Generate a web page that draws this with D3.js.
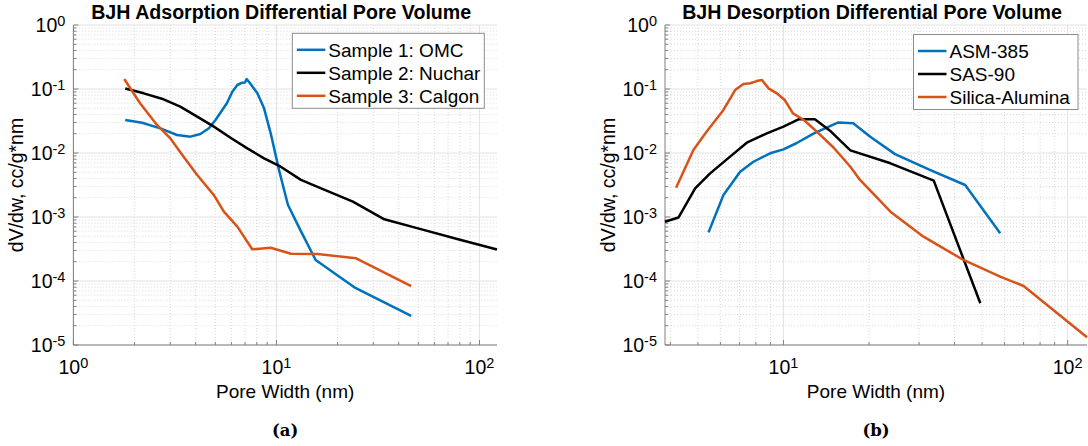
<!DOCTYPE html>
<html>
<head>
<meta charset="utf-8">
<script src="https://cdn.jsdelivr.net/npm/d3@7"></script>
<style>
html,body{margin:0;padding:0;background:#fff;}
svg{display:block;}
text{font-family:"Liberation Sans",Arial,Helvetica,sans-serif;fill:#000;}
</style>
</head>
<body>
<svg id="chart" width="1088" height="446"></svg>
<script>
// ---------- data ----------
const titles = ["BJH Adsorption Differential Pore Volume", "BJH Desorption Differential Pore Volume"];
const captions = ["(a)", "(b)"];
const xLabel = "Pore Width (nm)";
const yLabel = "dV/dw, cc/g*nm";

const namesA = ["Sample 1: OMC", "Sample 2: Nuchar", "Sample 3: Calgon"];
const namesB = ["ASM-385", "SAS-90", "Silica-Alumina"];
const colors = ["#0072BD", "#000000", "#D95319"];

const xDomainA = [1, 122];
const xDomainB = [3.83, 117];
const yDomain = [1e-5, 1];

const xTicksA = [1, 10, 100];
const xTickExpA = ["0", "1", "2"];
const xTicksB = [10, 100];
const xTickExpB = ["1", "2"];
const yTicks = [1e-5, 1e-4, 1e-3, 1e-2, 1e-1, 1];
const yTickExp = ["-5", "-4", "-3", "-2", "-1", "0"];

// Panel (a)
const omcX = [1.80, 2.18, 2.68, 3.24, 3.77, 4.22, 4.65, 5.01, 5.41, 5.72, 6.06, 6.42, 6.79, 7.0, 7.13, 7.32, 8.06, 8.69, 9.37, 10.3, 11.4, 13.1, 15.6, 24.2, 46.1];
const omcY = [0.0328, 0.0297, 0.0243, 0.0191, 0.018, 0.0198, 0.0243, 0.0328, 0.047, 0.061, 0.0907, 0.1155, 0.1256, 0.126, 0.143, 0.130, 0.0855, 0.0499, 0.0203, 0.0054, 0.00154, 0.00063, 0.000213, 7.98e-5, 2.84e-5];
const nucharX = [1.80, 2.22, 2.78, 3.36, 4.07, 4.92, 5.94, 7.19, 8.69, 10.5, 13.2, 16.6, 23.8, 34.0, 49.8, 78.5, 122];
const nucharY = [0.102, 0.0856, 0.069, 0.053, 0.037, 0.0258, 0.0173, 0.0118, 0.00826, 0.0061, 0.0038, 0.0028, 0.00174, 0.00092, 0.000665, 0.000448, 0.00031];
const calgonX = [1.78, 2.13, 2.58, 3.0, 3.49, 4.07, 4.92, 5.51, 6.42, 7.6, 9.37, 11.8, 15.95, 24.7, 46.1];
const calgonY = [0.143, 0.0598, 0.0274, 0.017, 0.00877, 0.00453, 0.0022, 0.00121, 0.000706, 0.000313, 0.000331, 0.000266, 0.000264, 0.000226, 8.35e-5];

// Panel (b)
const asmX = [5.45, 6.15, 7.04, 7.84, 8.98, 10.0, 11.1, 12.8, 15.6, 17.6, 20.2, 24.7, 32.9, 43.6, 57.9];
const asmY = [0.000575, 0.0022, 0.0051, 0.0073, 0.0099, 0.0114, 0.0142, 0.0203, 0.0300, 0.0291, 0.018, 0.0096, 0.0054, 0.00316, 0.000556];
const sasX = [3.83, 4.27, 4.89, 5.52, 6.49, 7.43, 8.74, 10.0, 11.3, 12.9, 14.7, 17.2, 23.8, 33.8, 49.3];
const sasY = [0.000845, 0.00098, 0.0028, 0.0048, 0.00877, 0.0145, 0.0203, 0.0258, 0.0336, 0.0337, 0.0216, 0.011, 0.0069, 0.0037, 4.48e-5];
const silicaX = [4.19, 4.82, 5.37, 6.15, 6.76, 7.23, 7.64, 8.06, 8.4, 8.86, 9.48, 10.1, 10.8, 11.8, 13.1, 15.0, 17.2, 18.6, 23.8, 31.1, 43.0, 57.9, 70.0, 117];
const silicaY = [0.00287, 0.0111, 0.0216, 0.047, 0.0964, 0.12, 0.123, 0.133, 0.138, 0.1025, 0.0856, 0.0673, 0.0417, 0.0328, 0.0216, 0.0122, 0.0061, 0.0038, 0.00121, 0.000493, 0.000213, 0.000117, 8.35e-5, 1.32e-5];

// ---------- drawing ----------
const svg = d3.select("#chart");

function zip(xs, ys) { return xs.map((x, i) => ({x: x, y: ys[i]})); }

function minorValues(domain) {
  const out = [];
  const d0 = Math.floor(Math.log10(domain[0])), d1 = Math.ceil(Math.log10(domain[1]));
  for (let d = d0; d <= d1; d++) {
    for (let k = 1; k <= 9; k++) {
      const v = k * Math.pow(10, d);
      if (v >= domain[0] * 0.9999 && v <= domain[1] * 1.0001) out.push({v: v, major: k === 1});
    }
  }
  return out;
}

function drawPanel(p) {
  const g = svg.append("g");
  const x = d3.scaleLog().domain(p.xDomain).range([p.left, p.right]);
  const y = d3.scaleLog().domain(yDomain).range([p.bottom, p.top]);

  const xm = minorValues(p.xDomain);
  const ym = minorValues(yDomain);

  // minor grid
  const grid = g.append("g");
  grid.selectAll("line.mx").data(xm.filter(d => !d.major)).join("line")
    .attr("x1", d => x(d.v)).attr("x2", d => x(d.v)).attr("y1", p.top).attr("y2", p.bottom)
    .attr("stroke", "#cfcfcf").attr("stroke-width", 0.8).attr("stroke-dasharray", "1,2");
  grid.selectAll("line.my").data(ym.filter(d => !d.major)).join("line")
    .attr("y1", d => y(d.v)).attr("y2", d => y(d.v)).attr("x1", p.left).attr("x2", p.right)
    .attr("stroke", "#cfcfcf").attr("stroke-width", 0.8).attr("stroke-dasharray", "1,2");
  // major grid
  grid.selectAll("line.Mx").data(xm.filter(d => d.major)).join("line")
    .attr("x1", d => x(d.v)).attr("x2", d => x(d.v)).attr("y1", p.top).attr("y2", p.bottom)
    .attr("stroke", "#e2e2e2").attr("stroke-width", 1);
  grid.selectAll("line.My").data(ym.filter(d => d.major)).join("line")
    .attr("y1", d => y(d.v)).attr("y2", d => y(d.v)).attr("x1", p.left).attr("x2", p.right)
    .attr("stroke", "#e2e2e2").attr("stroke-width", 1);

  // axes lines + ticks (inward)
  const ax = g.append("g").attr("stroke", "#808080").attr("stroke-width", 1);
  ax.append("line").attr("x1", p.left).attr("x2", p.right).attr("y1", p.bottom).attr("y2", p.bottom);
  ax.append("line").attr("x1", p.left).attr("x2", p.left).attr("y1", p.top).attr("y2", p.bottom);
  ax.selectAll("line.tx").data(xm).join("line")
    .attr("x1", d => x(d.v)).attr("x2", d => x(d.v)).attr("y1", p.bottom).attr("y2", d => p.bottom - (d.major ? 5 : 3));
  ax.selectAll("line.ty").data(ym).join("line")
    .attr("y1", d => y(d.v)).attr("y2", d => y(d.v)).attr("x1", p.left).attr("x2", d => p.left + (d.major ? 5 : 3));

  // series
  const line = d3.line().x(d => x(d.x)).y(d => y(d.y));
  p.series.forEach((s, i) => {
    g.append("path").datum(s.data).attr("d", line)
      .attr("fill", "none").attr("stroke", s.color).attr("stroke-width", 2.5)
      .attr("stroke-linejoin", "round").attr("stroke-linecap", "butt");
  });

  // y tick labels
  yTicks.forEach((v, i) => {
    const t = g.append("text").attr("x", p.left - 8).attr("y", y(v) + 7)
      .attr("text-anchor", "end").style("font-size", "19.5px");
    t.append("tspan").text("10");
    t.append("tspan").attr("dy", -6.5).style("font-size", "14.5px").text(yTickExp[i]);
  });
  // x tick labels
  p.xTicks.forEach((v, i) => {
    const t = g.append("text").attr("x", x(v)).attr("y", p.bottom + 29)
      .attr("text-anchor", "middle").style("font-size", "19.5px");
    t.append("tspan").text("10");
    t.append("tspan").attr("dy", -6.5).style("font-size", "14.5px").text(p.xTickExp[i]);
  });

  // title
  g.append("text").attr("x", (p.left + p.right) / 2 - 4).attr("y", 19)
    .attr("text-anchor", "middle").style("font-size", "19.6px").style("font-weight", "bold").text(p.title);
  // x label
  g.append("text").attr("x", (p.left + p.right) / 2).attr("y", 398)
    .attr("text-anchor", "middle").style("font-size", "19px").text(xLabel);
  // y label
  g.append("text").attr("transform", `translate(${p.left - 50},${(p.top + p.bottom) / 2}) rotate(-90)`)
    .attr("text-anchor", "middle").style("font-size", "19.5px").text(yLabel);
  // caption
  g.append("text").attr("x", (p.left + p.right) / 2).attr("y", 436)
    .attr("text-anchor", "middle").style("font-family", "'DejaVu Serif','Liberation Serif',serif")
    .style("font-weight", "bold").style("font-size", "16.5px").text(p.caption);

  // legend
  const L = p.legend;
  const lg = g.append("g");
  lg.append("rect").attr("x", L.x).attr("y", L.y).attr("width", L.w).attr("height", L.h)
    .attr("fill", "#fff").attr("stroke", "#8c8c8c").attr("stroke-width", 1);
  p.series.forEach((s, i) => {
    const cy = L.y + 16.5 + i * 23;
    lg.append("line").attr("x1", L.x + 4.5).attr("x2", L.x + 33).attr("y1", cy).attr("y2", cy)
      .attr("stroke", s.color).attr("stroke-width", 2.5);
    lg.append("text").attr("x", L.x + 36).attr("y", cy + 7).style("font-size", "19px").text(s.name);
  });
}

drawPanel({
  left: 73.4, right: 497, top: 25, bottom: 345,
  xDomain: xDomainA, xTicks: xTicksA, xTickExp: xTickExpA,
  title: titles[0], caption: captions[0],
  legend: {x: 292.3, y: 33.3, w: 192, h: 75},
  series: [
    {name: namesA[0], color: colors[0], data: zip(omcX, omcY)},
    {name: namesA[1], color: colors[1], data: zip(nucharX, nucharY)},
    {name: namesA[2], color: colors[2], data: zip(calgonX, calgonY)}
  ]
});
drawPanel({
  left: 665, right: 1087, top: 25, bottom: 345,
  xDomain: xDomainB, xTicks: xTicksB, xTickExp: xTickExpB,
  title: titles[1], caption: captions[1],
  legend: {x: 913.5, y: 34.5, w: 164.5, h: 75},
  series: [
    {name: namesB[0], color: colors[0], data: zip(asmX, asmY)},
    {name: namesB[1], color: colors[1], data: zip(sasX, sasY)},
    {name: namesB[2], color: colors[2], data: zip(silicaX, silicaY)}
  ]
});
</script>
</body>
</html>
